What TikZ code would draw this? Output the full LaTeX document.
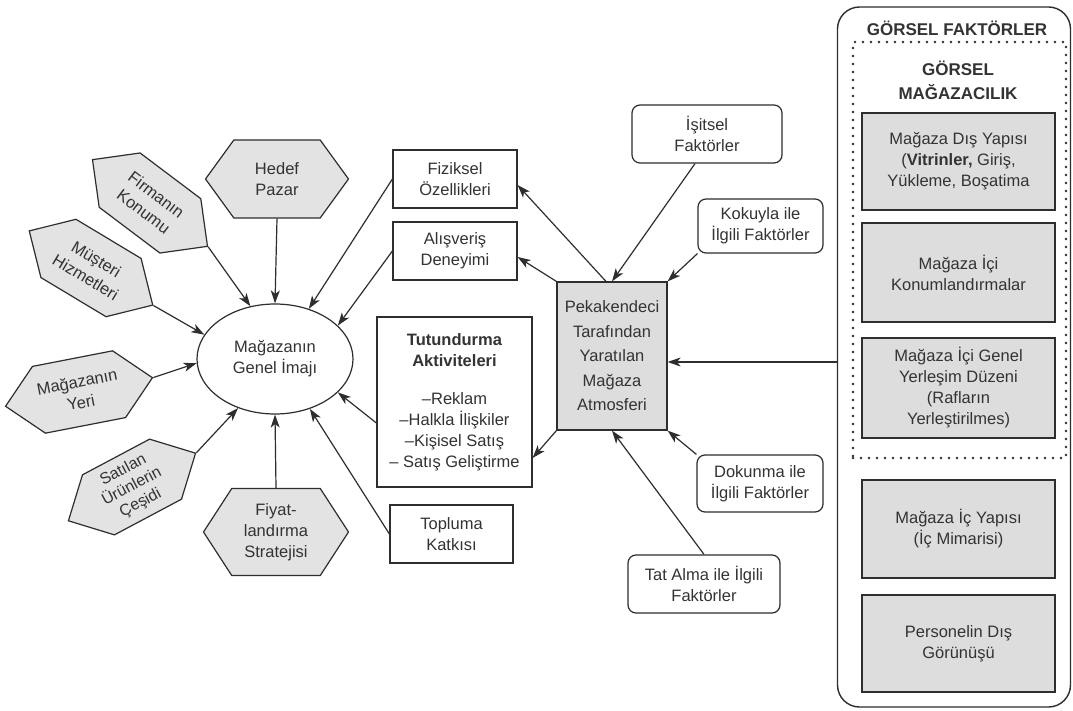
\documentclass[tikz,border=0pt]{standalone}
\usepackage{fontspec}
\setmainfont{Liberation Sans}
\usetikzlibrary{shapes.geometric,shapes.symbols,arrows.meta,calc}
\definecolor{linec}{HTML}{2E2E2E}
\definecolor{textc}{HTML}{333333}
\definecolor{hexfill}{HTML}{E3E3E3}
\definecolor{boxfill}{HTML}{DDDDDD}
\begin{document}
\begin{tikzpicture}[x=1pt,y=-1pt,
  every node/.style={text=textc, font=\fontsize{16.5}{21}\selectfont},
  hexa/.style={signal, signal to=east and west, signal pointer angle=90, draw=linec, line width=1.2pt, fill=hexfill, align=center, inner sep=0pt, minimum width=144pt, minimum height=68pt},
  sqbox/.style={rectangle, draw=linec, line width=1.2pt, fill=white, align=center, inner sep=2pt},
  rbox/.style={sqbox, rounded corners=8pt},
  pbox/.style={sqbox, fill=boxfill, minimum width=193pt},
  titlefont/.style={font=\fontsize{17}{24}\selectfont\bfseries},
  arr/.style={draw=linec, line width=1.2pt, -{Stealth[length=13pt,width=9pt,inset=3.5pt]}}
]
\useasboundingbox (0,0) rectangle (1073,711);
\fill[white] (0,0) rectangle (1073,711);

% hexagons
\node[hexa, rotate=-37] (firm) at (150,203) {Firmanın\\Konumu};
\node[hexa, rotate=-31] (must) at (91,268) {Müşteri\\Hizmetleri};
\node[hexa, rotate=11] (yeri) at (79,392) {Mağazanın\\Yeri};
\node[hexa, rotate=28, font=\fontsize{16}{18.5}\selectfont] (sat) at (132,487) {Satılan\\Ürünlerin\\Çeşidi};
\node[hexa, signal pointer angle=108, minimum width=143pt, minimum height=78pt] (hedef) at (277,179) {Hedef\\Pazar};
\node[hexa, signal pointer angle=114, minimum width=145pt, minimum height=87pt] (fiyat) at (276,532) {Fiyat-\\landırma\\Stratejisi};

% central ellipse
\node[ellipse, draw=linec, line width=1.2pt, fill=white, align=center, minimum width=156pt, minimum height=110pt, inner sep=0pt] (img) at (275,359) {Mağazanın\\Genel İmajı};

% middle boxes
\node[sqbox, minimum width=124pt, minimum height=58pt] (fiz) at (455,179) {Fiziksel\\Özellikleri};
\node[sqbox, minimum width=124pt, minimum height=58pt] (alis) at (455,251) {Alışveriş\\Deneyimi};
\node[sqbox, minimum width=155pt, minimum height=170pt] (tut) at (454.5,402) {\textbf{Tutundurma}\\\textbf{Aktiviteleri}\\[17pt]–Reklam\\–Halkla İlişkiler\\–Kişisel Satış\\– Satış Geliştirme};
\node[sqbox, minimum width=123pt, minimum height=58pt] (topl) at (451.5,534) {Topluma\\Katkısı};

\node[sqbox, fill=boxfill, minimum width=110pt, minimum height=148pt, font=\fontsize{16.5}{24.5}\selectfont] (atm) at (612,356) {Pekakendeci\\Tarafından\\Yaratılan\\Mağaza\\Atmosferi};

% sensory boxes
\node[rbox, minimum width=150pt, minimum height=58pt] (isit) at (707,134) {İşitsel\\Faktörler};
\node[rbox, minimum width=125pt, minimum height=54pt] (koku) at (760.5,226) {Kokuyla ile\\İlgili Faktörler};
\node[rbox, minimum width=126pt, minimum height=57pt] (dok) at (760,483.5) {Dokunma ile\\İlgili Faktörler};
\node[rbox, minimum width=152pt, minimum height=58pt] (tat) at (704,584) {Tat Alma ile İlgili\\Faktörler};

% right panel
\node[draw=linec, line width=1.4pt, rounded corners=22pt, minimum width=233pt, minimum height=700pt, inner sep=0pt] (panel) at (954,357) {};
\node[titlefont] (ptitle) at (957,28) {GÖRSEL FAKTÖRLER};
\node[draw=linec, line width=2.8pt, line cap=round, dash pattern=on 0pt off 8pt, minimum width=213pt, minimum height=416pt, inner sep=0pt] (dots) at (959.5,250) {};
\node[titlefont, align=center] (gm) at (958,80) {GÖRSEL\\MAĞAZACILIK};
\node[pbox, minimum height=97pt] (p1) at (958.5,161.5) {Mağaza Dış Yapısı\\(\textbf{Vitrinler,} Giriş,\\Yükleme, Boşatima};
\node[pbox, minimum height=99pt] (p2) at (958.5,272.5) {Mağaza İçi\\Konumlandırmalar};
\node[pbox, minimum height=100pt] (p3) at (958.5,388) {Mağaza İçi Genel\\Yerleşim Düzeni\\(Rafların\\Yerleştirilmes)};
\node[pbox, minimum height=98pt] (p4) at (958.5,529) {Mağaza İç Yapısı\\(İç Mimarisi)};
\node[pbox, minimum height=97pt] (p5) at (958.5,643.5) {Personelin Dış\\Görünüşü};

% arrows into the image ellipse
\draw[arr] (hedef.south) -- (img.90);
\draw[arr] (firm.east) -- (img.115);
\draw[arr] (must.east) -- (img.161);
\draw[arr] (yeri.east) -- (img.183);
\draw[arr] (sat.east) -- (img.233);
\draw[arr] (fiyat.north) -- (img.270);
\draw[arr] (fiz.west) -- (img.56);
\draw[arr] (alis.west) -- (img.28);
\draw[arr] ([yshift=-21pt]tut.west) -- (img.332);
\draw[arr] (topl.west) -- (img.305);

% arrows from atmosphere box
\draw[arr] ([xshift=-6pt]atm.north) -- ([yshift=-6pt]fiz.east);
\draw[arr] (atm.north west) -- ([yshift=-6pt]alis.east);
\draw[arr] (atm.south west) -- ([yshift=-56pt]tut.east);

% arrows into atmosphere box
\draw[arr] ([xshift=-12pt]isit.south) -- (atm.north);
\draw[arr] (koku.south west) -- (atm.north east);
\draw[arr] (dok.north west) -- (atm.south east);
\draw[arr] (tat.north) -- (atm.south);
\coordinate (pin) at (837,362);
\draw[arr] (pin) -- (atm.east |- pin);
\end{tikzpicture}
\end{document}
